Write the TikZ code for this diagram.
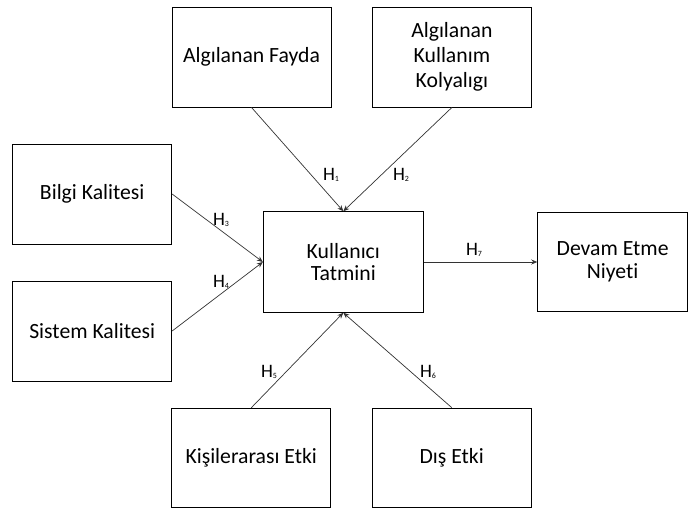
\documentclass[tikz,border=0pt]{standalone}
\usepackage{fontspec}
\setmainfont{Carlito}[Ligatures={NoCommon,NoRare,NoContextual}]
\usetikzlibrary{arrows.meta}
\newcommand{\hyp}[1]{H{\fontsize{8}{8}\selectfont\raisebox{-0.5bp}{#1}}}
\begin{document}
\begin{tikzpicture}[x=1bp,y=-1bp,
  box/.style={draw=black,line width=0.9bp,inner sep=0pt,align=center,
    font=\fontsize{21.7bp}{25bp}\selectfont,minimum width=159bp,minimum height=100bp},
  tight/.style={font=\fontsize{21.7bp}{22.5bp}\selectfont},
  conn/.style={draw=black!80,line width=0.7bp,-{Stealth[length=6bp,width=5bp]}},
  hlab/.style={inner sep=0pt,font=\fontsize{19bp}{22bp}\selectfont}]
\useasboundingbox (0,0) rectangle (688,509);
\node[box] (fayda) at (251.5,57) {Algılanan Fayda};
\node[box,minimum width=159.5bp] (kolay) at (451.9,57) {Algılanan\\Kullanım\\Kolyalıgı};
\node[box] (bilgi) at (92.2,194) {Bilgi Kalitesi};
\node[box] (sistem) at (92.2,331) {Sistem Kalitesi};
\node[box,tight,minimum width=160bp,minimum height=100.6bp] (tatmin) at (343.3,262) {Kullanıcı\\Tatmini};
\node[box,tight,minimum width=149.8bp,minimum height=99.7bp] (devam) at (612.6,262) {Devam Etme\\Niyeti};
\node[box,minimum height=99.2bp] (kisi) at (251.2,457.9) {Kişilerarası Etki};
\node[box,minimum width=158.7bp,minimum height=99.5bp] (dis) at (451.7,457.8) {Dış Etki};
\draw[conn] (fayda.south) -- (tatmin.north);
\draw[conn] (kolay.south) -- (tatmin.north);
\draw[conn] (bilgi.east) -- (tatmin.west);
\draw[conn] (sistem.east) -- (tatmin.west);
\draw[conn] (kisi.north) -- (tatmin.south);
\draw[conn] (dis.north) -- (tatmin.south);
\draw[conn] (tatmin.east) -- (devam.west);
\node[hlab] (h1) at (331,175) {\hyp{1}};
\node[hlab] (h2) at (401,175) {\hyp{2}};
\node[hlab] (h3) at (221,220) {\hyp{3}};
\node[hlab] (h4) at (221,282) {\hyp{4}};
\node[hlab] (h5) at (269,372) {\hyp{5}};
\node[hlab] (h6) at (428,372) {\hyp{6}};
\node[hlab] (h7) at (474,250) {\hyp{7}};
\end{tikzpicture}
\end{document}
